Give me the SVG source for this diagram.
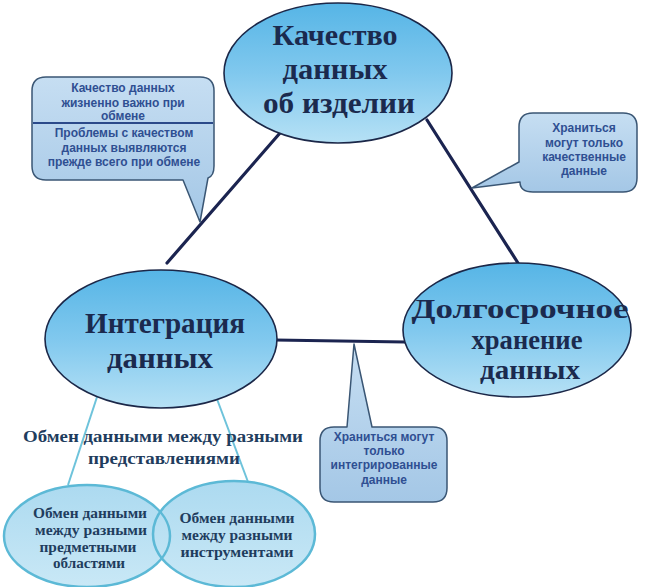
<svg xmlns="http://www.w3.org/2000/svg" width="646" height="587" viewBox="0 0 646 587">
<defs>
<linearGradient id="gBig" x1="0" y1="0" x2="0" y2="1">
<stop offset="0" stop-color="#56b5e6"/>
<stop offset="0.5" stop-color="#80c8ee"/>
<stop offset="1" stop-color="#b6e1f5"/>
</linearGradient>
<linearGradient id="gSmall" x1="0" y1="0" x2="0" y2="1">
<stop offset="0" stop-color="#acdaf0"/>
<stop offset="1" stop-color="#c9e8f6"/>
</linearGradient>
<linearGradient id="gCall" x1="0" y1="0" x2="0" y2="1">
<stop offset="0" stop-color="#c6def2"/>
<stop offset="1" stop-color="#a4c7e6"/>
</linearGradient>
</defs>
<style>
.big{fill:url(#gBig);stroke:#1b2748;stroke-width:1.6}
.sfill{fill:url(#gSmall);stroke:none}
.sline{fill:none;stroke:#5cb9d6;stroke-width:2.5}
.call{fill:url(#gCall);stroke:#3a5674;stroke-width:1.5;stroke-linejoin:round}
.main{font-family:"Liberation Serif","Times New Roman",serif;font-weight:bold;fill:#1b2a4e;text-anchor:middle}
.sub{font-family:"Liberation Serif","Times New Roman",serif;font-weight:bold;fill:#1f3d5e;text-anchor:middle}
.ct{font-family:"Liberation Sans",Arial,sans-serif;font-weight:bold;font-size:12px;fill:#2f4f92;text-anchor:middle}
.dark{stroke:#1b2450;stroke-width:3.2;fill:none;stroke-linecap:round}
.light{stroke:#6ec3db;stroke-width:2;fill:none}
</style>
<rect width="646" height="587" fill="#ffffff"/>
<g id="connectors">
<line class="dark" x1="280" y1="133" x2="167" y2="263"/>
<line class="dark" x1="427" y1="120" x2="518" y2="263"/>
<line class="dark" x1="275" y1="340" x2="405" y2="342"/>
<line class="light" x1="97" y1="397" x2="68" y2="485"/>
<line class="light" x1="217" y1="399" x2="248" y2="482"/>
</g>
<g id="node-quality">
<ellipse class="big" cx="338" cy="73" rx="114" ry="70"/>
<text class="main" font-size="30" x="335" y="45" textLength="125" lengthAdjust="spacingAndGlyphs">Качество</text>
<text class="main" font-size="30" x="335" y="79" textLength="105" lengthAdjust="spacingAndGlyphs">данных</text>
<text class="main" font-size="30" x="339" y="113" textLength="152" lengthAdjust="spacingAndGlyphs">об изделии</text>
</g>
<g id="node-integration">
<ellipse class="big" cx="161" cy="339" rx="116" ry="69"/>
<text class="main" font-size="29" x="165" y="333" textLength="160" lengthAdjust="spacingAndGlyphs">Интеграция</text>
<text class="main" font-size="29" x="160" y="368" textLength="106" lengthAdjust="spacingAndGlyphs">данных</text>
</g>
<g id="node-storage">
<ellipse class="big" cx="517" cy="330" rx="114" ry="67"/>
<text class="main" font-size="28" x="520" y="318" textLength="217" lengthAdjust="spacingAndGlyphs">Долгосрочное</text>
<text class="main" font-size="28" x="527" y="349" textLength="111" lengthAdjust="spacingAndGlyphs">хранение</text>
<text class="main" font-size="28" x="530" y="379" textLength="100" lengthAdjust="spacingAndGlyphs">данных</text>
</g>
<g id="callout-quality">
<path class="call" d="M46,77 H200 Q214,77 214,91 V166 Q214,176 208,178 L200,222 L183,180 H46 Q32,180 32,166 V91 Q32,77 46,77 Z"/>
<line x1="33" y1="123" x2="213" y2="123" stroke="#2b4a8a" stroke-width="2"/>
<text class="ct" x="123" y="92">Качество данных</text>
<text class="ct" x="123" y="107">жизненно важно при</text>
<text class="ct" x="123" y="120">обмене</text>
<text class="ct" x="124" y="137">Проблемы с качеством</text>
<text class="ct" x="124" y="152">данных выявляются</text>
<text class="ct" x="124" y="166">прежде всего при обмене</text>
</g>
<g id="callout-storage">
<path class="call" d="M533,113 H623 Q637,113 637,127 V178 Q637,192 623,192 H533 Q520,192 520,182 L472,188 L519,162 V127 Q519,113 533,113 Z"/>
<text class="ct" x="584" y="132">Храниться</text>
<text class="ct" x="584" y="147">могут только</text>
<text class="ct" x="584" y="161">качественные</text>
<text class="ct" x="584" y="175">данные</text>
</g>
<g id="callout-integration">
<path class="call" d="M334,427 H347 L354,344 L372,427 H433 Q447,427 447,441 V488 Q447,502 433,502 H334 Q320,502 320,488 V441 Q320,427 334,427 Z"/>
<text class="ct" x="384" y="441">Храниться могут</text>
<text class="ct" x="384" y="455">только</text>
<text class="ct" x="384" y="469">интегрированные</text>
<text class="ct" x="384" y="484">данные</text>
</g>
<g id="label-representations">
<text class="sub" font-size="17" x="163" y="442" textLength="280" lengthAdjust="spacingAndGlyphs">Обмен данными между разными</text>
<text class="sub" font-size="17" x="164" y="464" textLength="152" lengthAdjust="spacingAndGlyphs">представлениями</text>
</g>
<g id="node-domains">
<ellipse class="sfill" cx="87" cy="536" rx="83" ry="51"/>
</g>
<g id="node-tools">
<ellipse class="sfill" cx="234" cy="534" rx="81" ry="53"/>
</g>
<g id="outlines-small">
<ellipse class="sline" cx="87" cy="536" rx="83" ry="51"/>
<ellipse class="sline" cx="234" cy="534" rx="81" ry="53"/>
</g>
<g id="texts-small">
<text class="sub" font-size="15" x="90" y="518" textLength="114" lengthAdjust="spacingAndGlyphs">Обмен данными</text>
<text class="sub" font-size="15" x="91" y="535" textLength="112" lengthAdjust="spacingAndGlyphs">между разными</text>
<text class="sub" font-size="15" x="88" y="552" textLength="97" lengthAdjust="spacingAndGlyphs">предметными</text>
<text class="sub" font-size="15" x="89" y="568" textLength="72" lengthAdjust="spacingAndGlyphs">областями</text>
<text class="sub" font-size="15" x="237" y="523" textLength="115" lengthAdjust="spacingAndGlyphs">Обмен данными</text>
<text class="sub" font-size="15" x="237" y="540" textLength="111" lengthAdjust="spacingAndGlyphs">между разными</text>
<text class="sub" font-size="15" x="237" y="557" textLength="113" lengthAdjust="spacingAndGlyphs">инструментами</text>
</g>
</svg>
